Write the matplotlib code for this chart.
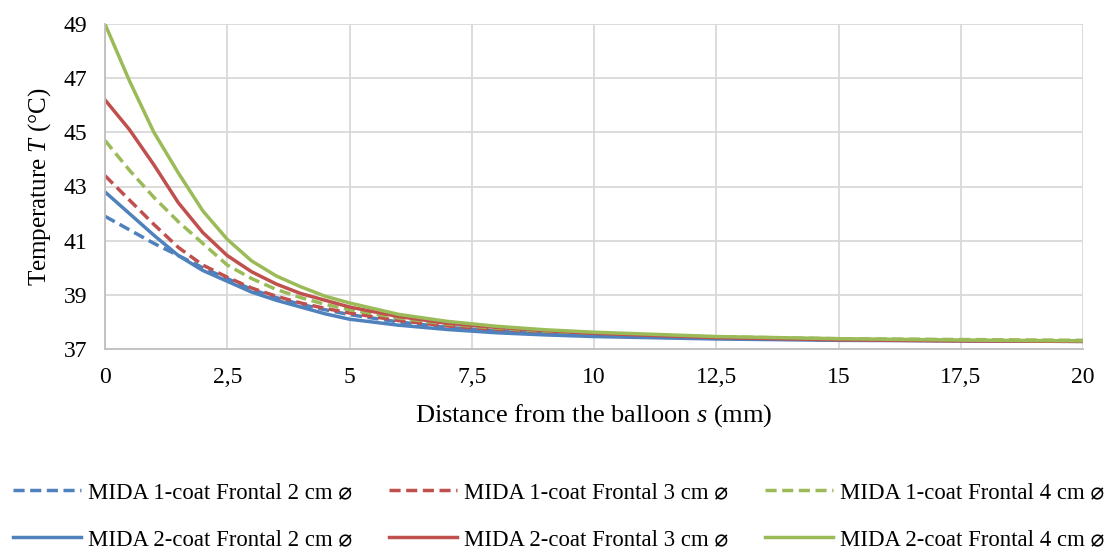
import matplotlib
matplotlib.use("Agg")
import matplotlib.pyplot as plt
from matplotlib.ticker import FixedLocator, FuncFormatter

plt.rcParams['font.family'] = ['Liberation Serif', 'DejaVu Sans']
plt.rcParams['mathtext.fontset'] = 'custom'
plt.rcParams['mathtext.rm'] = 'Liberation Serif'
plt.rcParams['mathtext.it'] = 'Liberation Serif:italic'

s = [0, 0.5, 1, 1.5, 2, 2.5, 3, 3.5, 4, 4.5, 5, 6, 7, 8, 9, 10, 12.5, 15, 17.5, 20]

t_1c_2 = [41.9, 41.4, 40.9, 40.45, 40.0, 39.6, 39.2, 38.9, 38.65, 38.45, 38.27, 38.0, 37.8, 37.67, 37.57, 37.5, 37.4, 37.34, 37.31, 37.29]
t_1c_3 = [43.4, 42.5, 41.6, 40.75, 40.1, 39.65, 39.25, 38.95, 38.7, 38.5, 38.33, 38.05, 37.85, 37.7, 37.6, 37.52, 37.41, 37.34, 37.31, 37.29]
t_1c_4 = [44.7, 43.6, 42.6, 41.7, 40.9, 40.1, 39.6, 39.2, 38.9, 38.65, 38.45, 38.15, 37.92, 37.77, 37.65, 37.57, 37.45, 37.38, 37.35, 37.32]
t_2c_2 = [42.8, 42.0, 41.2, 40.45, 39.9, 39.5, 39.1, 38.8, 38.55, 38.3, 38.1, 37.88, 37.72, 37.6, 37.52, 37.46, 37.37, 37.32, 37.3, 37.28]
t_2c_3 = [46.2, 45.1, 43.8, 42.4, 41.3, 40.45, 39.85, 39.4, 39.05, 38.8, 38.55, 38.2, 37.95, 37.8, 37.68, 37.58, 37.42, 37.34, 37.3, 37.28]
t_2c_4 = [49.0, 46.9, 45.0, 43.5, 42.1, 41.05, 40.25, 39.7, 39.3, 38.95, 38.7, 38.28, 38.02, 37.84, 37.71, 37.62, 37.46, 37.38, 37.33, 37.3]

labels = ["MIDA 1-coat Frontal 2 cm \u2300", "MIDA 1-coat Frontal 3 cm \u2300", "MIDA 1-coat Frontal 4 cm \u2300",
          "MIDA 2-coat Frontal 2 cm \u2300", "MIDA 2-coat Frontal 3 cm \u2300", "MIDA 2-coat Frontal 4 cm \u2300"]
x_ticks = [0, 2.5, 5, 7.5, 10, 12.5, 15, 17.5, 20]
y_ticks = [37, 39, 41, 43, 45, 47, 49]

blue, red, green = '#4F81BD', '#C0504D', '#9BBB59'
dash = (0, (3.2, 1.6))

fig = plt.figure(figsize=(11.17, 5.48), dpi=100)
ax = fig.add_axes([105/1117, 1-349/548, (1083-105)/1117, (349-24)/548])

lw = 2.5
l1, = ax.plot(s, t_1c_2, color=blue, lw=lw, ls=dash, label=labels[0])
l2, = ax.plot(s, t_1c_3, color=red, lw=lw, ls=dash, label=labels[1])
l3, = ax.plot(s, t_1c_4, color=green, lw=lw, ls=dash, label=labels[2])
l4, = ax.plot(s, t_2c_2, color=blue, lw=lw, label=labels[3])
l5, = ax.plot(s, t_2c_3, color=red, lw=lw, label=labels[4])
l6, = ax.plot(s, t_2c_4, color=green, lw=lw, label=labels[5])

ax.set_xlim(0, 20)
ax.set_ylim(37, 49)
ax.xaxis.set_major_locator(FixedLocator(x_ticks))
ax.yaxis.set_major_locator(FixedLocator(y_ticks))
ax.xaxis.set_major_formatter(FuncFormatter(lambda v, p: ('%g' % v).replace('.', ',')))
ax.grid(True, color='#D9D9D9', lw=1.3)
ax.set_axisbelow(True)
for sp in ['top', 'right']:
    ax.spines[sp].set_visible(False)
for sp in ['left', 'bottom']:
    ax.spines[sp].set_color('#BFBFBF')
    ax.spines[sp].set_linewidth(1.3)
ax.tick_params(axis='x', length=0, labelsize=17, pad=13, colors='black')
ax.tick_params(axis='y', length=0, labelsize=17, pad=13, colors='black')

ax.set_xlabel("Distance from the balloon $s$ (mm)", fontsize=19, labelpad=10)
ax.set_ylabel("Temperature $T$ (\u00b0C)", fontsize=18, labelpad=7)

handles = [l1, l4, l2, l5, l3, l6]
fig.legend(handles, [h.get_label() for h in handles], ncol=3, loc='center',
           bbox_to_anchor=(0.5, 1-516/548), frameon=False, fontsize=16.4,
           handlelength=3.0, columnspacing=1.6, labelspacing=1.15, handletextpad=0.3,
           borderpad=0.2)

fig.savefig('out.png', dpi=100)
